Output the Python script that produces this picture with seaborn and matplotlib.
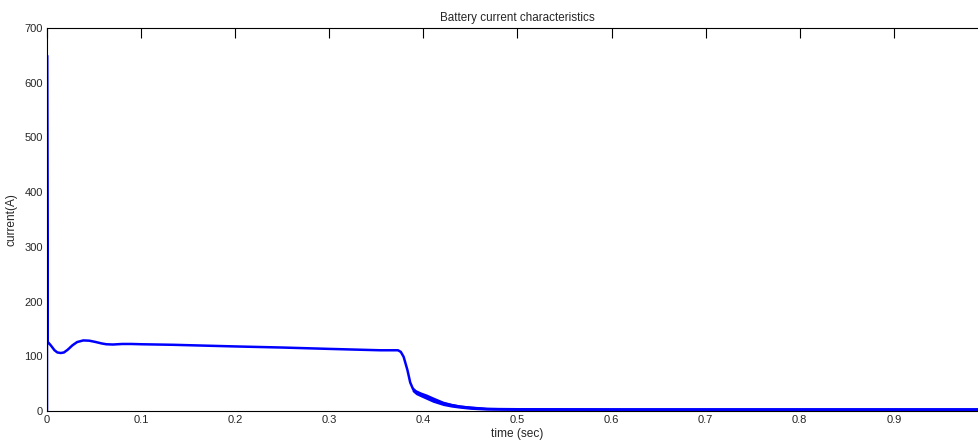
import numpy as np
import pandas as pd
import matplotlib
matplotlib.use("Agg")
import matplotlib.pyplot as plt
import seaborn as sns

# Battery current trace (time in seconds, current in amperes)
time_s = [0.0, 0.0, 0.0008, 0.002, 0.004, 0.008, 0.011, 0.0146, 0.018, 0.022,
          0.027, 0.032, 0.0386, 0.045, 0.052, 0.058, 0.063, 0.07, 0.08, 0.09,
          0.1, 0.134, 0.2, 0.25, 0.3, 0.354, 0.373, 0.376, 0.379, 0.383,
          0.386, 0.389, 0.392, 0.397, 0.4035, 0.41, 0.421, 0.43, 0.439, 0.45,
          0.467, 0.48, 0.5, 0.6, 0.7, 0.8, 0.9, 1.0]
current_a = [0.0, 650.0, 126.0, 124.0, 120.0, 111.0, 107.0, 106.0, 107.0, 112.0,
             120.0, 126.0, 129.0, 128.5, 126.0, 123.5, 122.0, 121.5, 122.5, 122.5,
             122.0, 121.0, 118.0, 116.0, 113.5, 111.0, 111.0, 108.0, 99.0, 75.0,
             52.0, 40.0, 35.0, 31.0, 26.0, 21.0, 14.0, 10.5, 8.0, 6.0,
             4.0, 3.5, 3.2, 3.0, 3.0, 3.0, 3.0, 3.0]

# Switching ripple envelope after the current drop
ripple_t = [0.388, 0.392, 0.397, 0.4035, 0.41, 0.421, 0.43, 0.439, 0.45, 0.467, 0.5, 1.0]
ripple_lo = [36.0, 30.0, 26.0, 21.0, 16.0, 10.0, 7.0, 5.0, 3.0, 1.5, 1.0, 0.8]
ripple_hi = [45.0, 39.0, 35.0, 31.0, 26.0, 18.0, 14.0, 11.0, 9.0, 6.5, 5.5, 5.5]

x_ticks = [0, 0.1, 0.2, 0.3, 0.4, 0.5, 0.6, 0.7, 0.8, 0.9]
x_tick_labels = ["0", "0.1", "0.2", "0.3", "0.4", "0.5", "0.6", "0.7", "0.8", "0.9"]
y_ticks = [0, 100, 200, 300, 400, 500, 600, 700]

sns.set_style("white")
plt.rcParams["font.family"] = ["Liberation Sans", "DejaVu Sans"]

fig = plt.figure(figsize=(9.79, 4.43), dpi=100)
ax = fig.add_axes([47 / 979, 1 - 411 / 443, 941 / 979, 383 / 443])

df = pd.DataFrame({"time": time_s, "current": current_a})
sns.lineplot(data=df, x="time", y="current", ax=ax, sort=False, estimator=None,
             color="#0000ff", linewidth=1.8)
ax.fill_between(ripple_t, ripple_lo, ripple_hi, color="#0000ff", linewidth=0)

ax.set_xlim(0, 1)
ax.set_ylim(0, 700)
ax.set_xticks(x_ticks)
ax.set_xticklabels(x_tick_labels)
ax.set_yticks(y_ticks)

for side in ["left", "right", "top", "bottom"]:
    ax.spines[side].set_visible(True)
    ax.spines[side].set_color("black")
    ax.spines[side].set_linewidth(0.8)

ax.tick_params(direction="in", length=7, width=0.8, colors="black",
               labelcolor="#262626", labelsize=8, top=True, right=True, pad=3)
ax.set_xlabel("time (sec)", fontsize=8.6, labelpad=2, color="#262626")
ax.set_ylabel("current(A)", fontsize=8.6, labelpad=5, color="#262626")
ax.set_title("Battery current characteristics", fontsize=8.4, pad=5, color="#262626")

fig.savefig("out.png", dpi=100)
